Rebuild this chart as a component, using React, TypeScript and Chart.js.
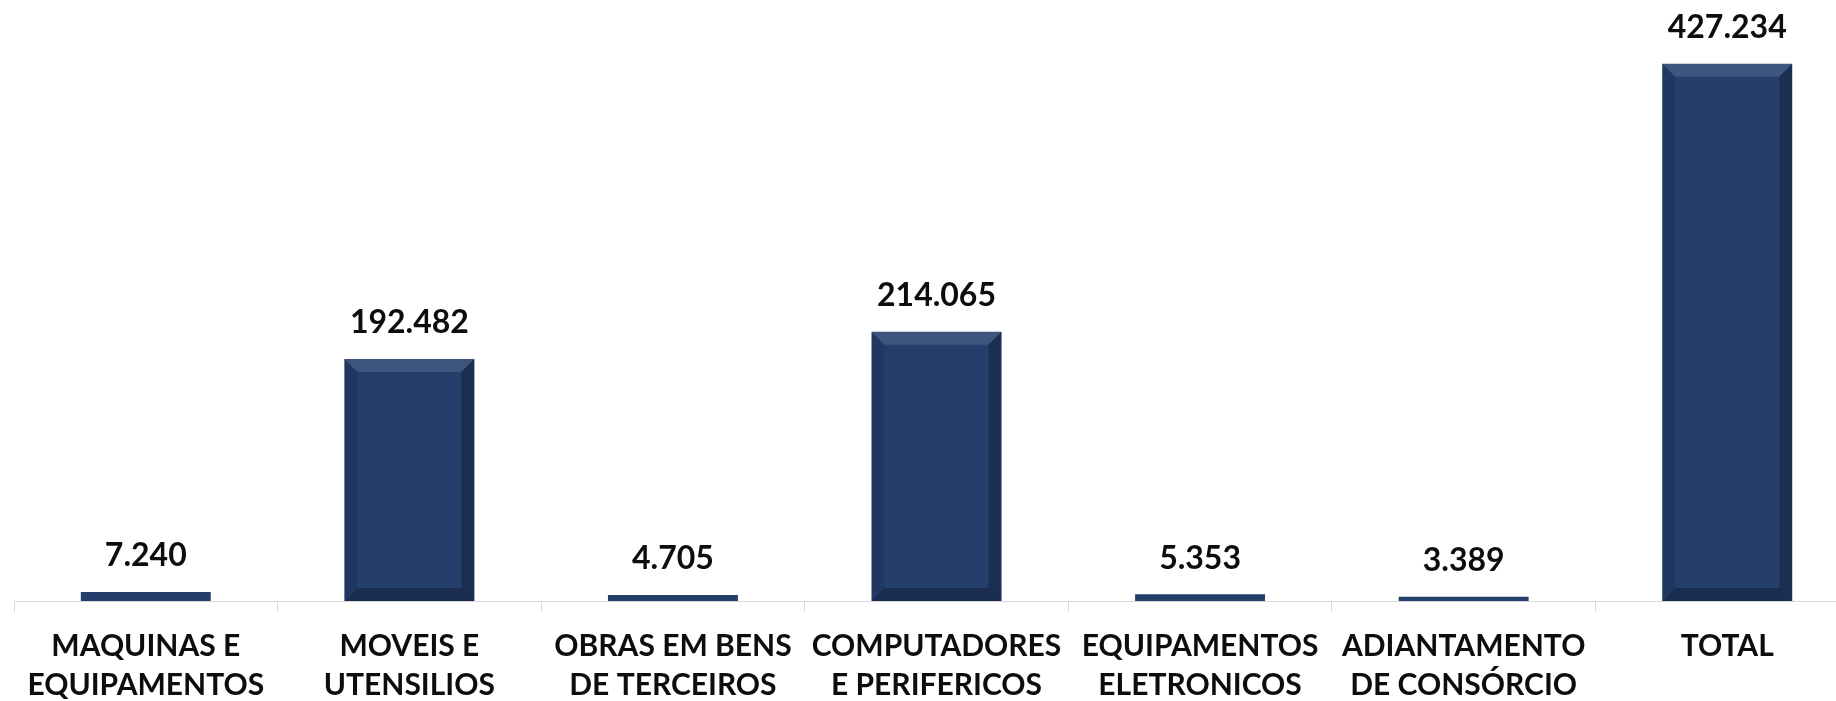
import React, { useEffect, useRef } from "react";
import { Chart, registerables } from "chart.js";

Chart.register(...registerables);

const categories: string[][] = [
  ["MAQUINAS E", "EQUIPAMENTOS"],
  ["MOVEIS E", "UTENSILIOS"],
  ["OBRAS EM BENS", "DE TERCEIROS"],
  ["COMPUTADORES", "E PERIFERICOS"],
  ["EQUIPAMENTOS", "ELETRONICOS"],
  ["ADIANTAMENTO", "DE CONSÓRCIO"],
  ["TOTAL"],
];
const values: number[] = [7240, 192482, 4705, 214065, 5353, 3389, 427234];
const yMax = 478000;

const fmt = (v: number) => String(Math.round(v)).replace(/\B(?=(\d{3})+(?!\d))/g, ".");

const bevelPlugin = {
  id: "bevel",
  afterDatasetsDraw(chart: any) {
    const ctx = chart.ctx;
    const meta = chart.getDatasetMeta(0);
    meta.data.forEach((bar: any) => {
      const { x, y, base, width } = bar.getProps(["x", "y", "base", "width"], true);
      const l = x - width / 2, r = x + width / 2, t = y, b = base;
      const h = b - t;
      const s = Math.min(13, h / 2);
      if (h < 12) return;
      ctx.save();
      ctx.fillStyle = "rgba(255,255,255,0.12)";
      ctx.beginPath();
      ctx.moveTo(l, t); ctx.lineTo(r, t); ctx.lineTo(r - s, t + s); ctx.lineTo(l + s, t + s); ctx.closePath(); ctx.fill();
      ctx.fillStyle = "rgba(0,0,0,0.10)";
      ctx.beginPath();
      ctx.moveTo(l, t); ctx.lineTo(l + s, t + s); ctx.lineTo(l + s, b - s); ctx.lineTo(l, b); ctx.closePath(); ctx.fill();
      ctx.fillStyle = "rgba(0,0,0,0.25)";
      ctx.beginPath();
      ctx.moveTo(r, t); ctx.lineTo(r - s, t + s); ctx.lineTo(r - s, b - s); ctx.lineTo(r, b); ctx.closePath(); ctx.fill();
      ctx.fillStyle = "rgba(0,0,0,0.28)";
      ctx.beginPath();
      ctx.moveTo(l, b); ctx.lineTo(l + s, b - s); ctx.lineTo(r - s, b - s); ctx.lineTo(r, b); ctx.closePath(); ctx.fill();
      ctx.restore();
    });
  },
};

const labelPlugin = {
  id: "valueLabels",
  afterDatasetsDraw(chart: any) {
    const ctx = chart.ctx;
    const meta = chart.getDatasetMeta(0);
    ctx.save();
    ctx.font = "bold 32px Lato";
    ctx.fillStyle = "#0d0d0d";
    ctx.textAlign = "center";
    ctx.textBaseline = "middle";
    meta.data.forEach((bar: any, i: number) => {
      ctx.fillText(fmt(values[i]), bar.x, bar.y - 36);
    });
    ctx.restore();
  },
};

export default function App() {
  const ref = useRef<HTMLCanvasElement>(null);
  useEffect(() => {
    if (!ref.current) return;
    const chart = new Chart(ref.current, {
      type: "bar",
      data: {
        labels: categories,
        datasets: [
          {
            data: values,
            backgroundColor: "#243f6c",
            borderWidth: 0,
            categoryPercentage: 1,
            barPercentage: 0.493,
          },
        ],
      },
      options: {
        animation: false,
        responsive: false,
        layout: { padding: { left: 14, right: 1, top: 0, bottom: 0 } },
        plugins: { legend: { display: false }, tooltip: { enabled: false } },
        scales: {
          x: {
            afterFit: (s: any) => { s.height = 100; },
            grid: {
              offset: true,
              drawOnChartArea: false,
              drawTicks: true,
              tickLength: 11,
              color: "#d9d9d9",
            },
            border: { color: "#d9d9d9", width: 1 },
            ticks: {
              autoSkip: false,
              maxRotation: 0,
              minRotation: 0,
              padding: 15,
              color: "#0d0d0d",
              font: { family: "Lato", weight: "bold", size: 30, lineHeight: 1.3 },
            },
          },
          y: {
            display: false,
            min: 0,
            max: yMax,
          },
        },
      },
      plugins: [bevelPlugin, labelPlugin],
    });
    return () => chart.destroy();
  }, []);
  return (
    <div style={{ position: "absolute", left: 0, top: 0, width: 1836, height: 701, overflow: "hidden", background: "#fff" }}>
      <canvas ref={ref} width={1860} height={701} style={{ width: 1860, height: 701, display: "block" }} />
    </div>
  );
}
